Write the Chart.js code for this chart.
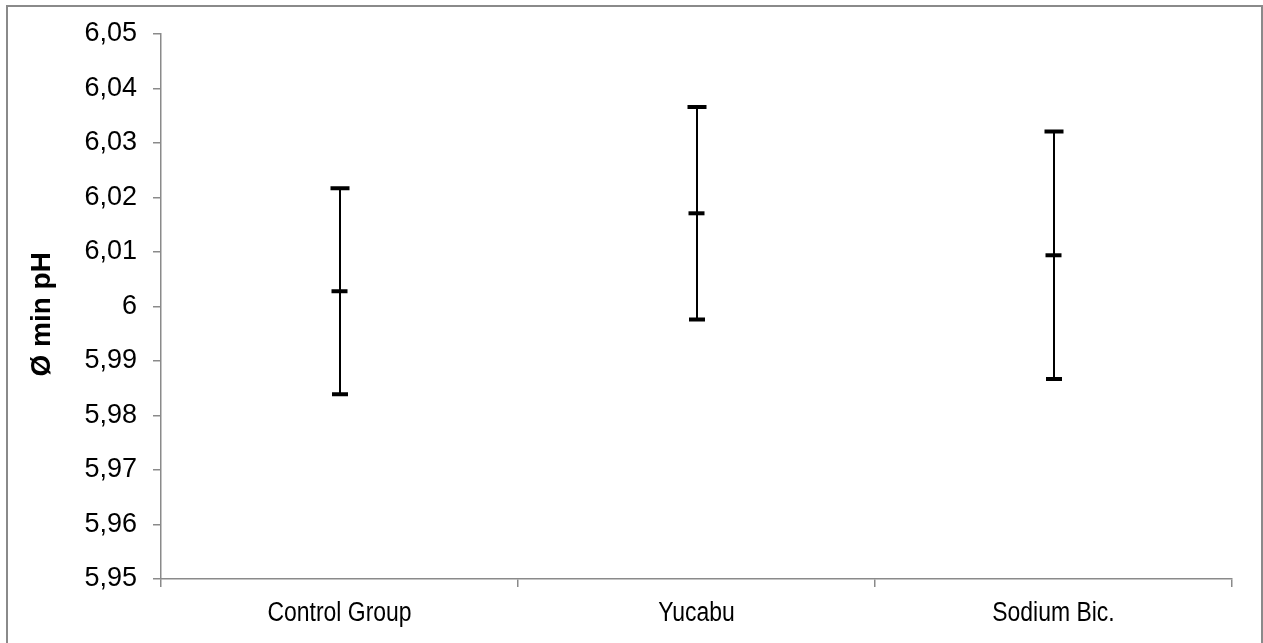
<!DOCTYPE html>
<html>
<head>
<meta charset="utf-8">
<script src="https://cdn.jsdelivr.net/npm/chart.js@4/dist/chart.umd.min.js"></script>
<style>
  html, body { margin: 0; padding: 0; background: #ffffff; }
  #wrap { width: 1263px; height: 643px; }
</style>
</head>
<body>
<div id="wrap"><canvas id="c" width="1263" height="643"></canvas></div>
<script>
// Groups, mean of the minimum pH and the spread shown as error bars
const categories = ['Control Group', 'Yucabu', 'Sodium Bic.'];
const meanMinPH = [6.0028, 6.0171, 6.0094];
const errorPH = [0.0189, 0.0195, 0.0227];

// Value axis ticks and their labels (decimal comma)
const yTickValues = [5.95, 5.96, 5.97, 5.98, 5.99, 6.00, 6.01, 6.02, 6.03, 6.04, 6.05];
const yTickLabels = ['5,95', '5,96', '5,97', '5,98', '5,99', '6', '6,01', '6,02', '6,03', '6,04', '6,05'];

const axisGrey = '#8a8a8a';
const FONT = '"Liberation Sans", Arial, sans-serif';
const X_LABEL_SIZE = 27;
const X_LABEL_SQUEEZE = 0.85;   // condensed category captions
const X_LABEL_PAD = 10;
const TICK_LEN = 8;

// White page with a thin grey frame around the chart
const framePlugin = {
  id: 'frame',
  beforeDraw(chart) {
    const ctx = chart.ctx;
    ctx.save();
    ctx.fillStyle = '#ffffff';
    ctx.fillRect(0, 0, chart.width, chart.height);
    ctx.strokeStyle = axisGrey;
    ctx.lineWidth = 2;
    ctx.strokeRect(7, 6, chart.width - 8, chart.height + 10);
    ctx.restore();
  }
};

// Vertical whiskers with caps at mean ± error
const errorBarPlugin = {
  id: 'errorBars',
  afterDatasetsDraw(chart) {
    const ctx = chart.ctx;
    const xs = chart.scales.x, ys = chart.scales.y;
    ctx.save();
    ctx.strokeStyle = '#000000';
    meanMinPH.forEach((m, i) => {
      const x = Math.round(xs.getPixelForValue(i));
      const yTop = ys.getPixelForValue(m + errorPH[i]);
      const yBot = ys.getPixelForValue(m - errorPH[i]);
      ctx.lineWidth = 2;
      ctx.beginPath();
      ctx.moveTo(x, yTop);
      ctx.lineTo(x, yBot);
      ctx.stroke();
      ctx.lineWidth = 4;
      ctx.beginPath();
      ctx.moveTo(x - 9.5, yTop);
      ctx.lineTo(x + 9.5, yTop);
      ctx.moveTo(x - 8, yBot);
      ctx.lineTo(x + 8, yBot);
      ctx.stroke();
    });
    ctx.restore();
  }
};

// Category captions in a horizontally condensed face, centred under each group
const categoryLabelPlugin = {
  id: 'categoryLabels',
  afterDraw(chart) {
    const ctx = chart.ctx;
    const xs = chart.scales.x;
    const y = chart.chartArea.bottom + TICK_LEN + X_LABEL_PAD + X_LABEL_SIZE * 1.2 / 2;
    ctx.save();
    ctx.fillStyle = '#000000';
    ctx.font = X_LABEL_SIZE + 'px ' + FONT;
    ctx.textAlign = 'center';
    ctx.textBaseline = 'middle';
    categories.forEach((label, i) => {
      const x = xs.getPixelForValue(i);
      ctx.save();
      ctx.translate(x, y);
      ctx.scale(X_LABEL_SQUEEZE, 1);
      ctx.fillText(label, 0, 0);
      ctx.restore();
    });
    ctx.restore();
  }
};

new Chart(document.getElementById('c'), {
  type: 'line',
  data: {
    labels: categories,
    datasets: [{
      data: meanMinPH,
      showLine: false,
      pointStyle: 'line',
      pointRadius: 8,
      pointBorderWidth: 4,
      pointBorderColor: '#000000',
      pointBackgroundColor: '#000000'
    }]
  },
  options: {
    responsive: false,
    devicePixelRatio: 1,
    animation: false,
    events: [],
    layout: { padding: { top: 34, right: 31, left: 0, bottom: 0 } },
    plugins: {
      legend: { display: false },
      tooltip: { enabled: false }
    },
    scales: {
      x: {
        type: 'category',
        offset: true,
        grid: {
          offset: true,
          drawOnChartArea: false,
          drawTicks: true,
          tickLength: TICK_LEN,
          color: axisGrey,
          lineWidth: 1.5
        },
        border: { color: axisGrey, width: 1.5 },
        ticks: {
          display: false
        },
        afterFit(scale) { scale.height = 64; }
      },
      y: {
        min: 5.95,
        max: 6.05,
        afterBuildTicks(scale) {
          scale.ticks = yTickValues.map(v => ({ value: v }));
        },
        grid: {
          drawOnChartArea: false,
          drawTicks: true,
          tickLength: TICK_LEN,
          color: axisGrey,
          lineWidth: 1.5
        },
        border: { color: axisGrey, width: 1.5 },
        ticks: {
          color: '#000000',
          font: { family: FONT, size: 27 },
          padding: 16,
          callback(value, index) { return yTickLabels[index]; }
        },
        title: {
          display: true,
          text: 'Ø min pH\u00a0\u00a0',
          color: '#000000',
          font: { family: FONT, size: 28, weight: 'bold' },
          padding: { top: 25, bottom: 0 }
        },
        afterFit(scale) { scale.width = 161; }
      }
    }
  },
  plugins: [framePlugin, errorBarPlugin, categoryLabelPlugin]
});
</script>
</body>
</html>
